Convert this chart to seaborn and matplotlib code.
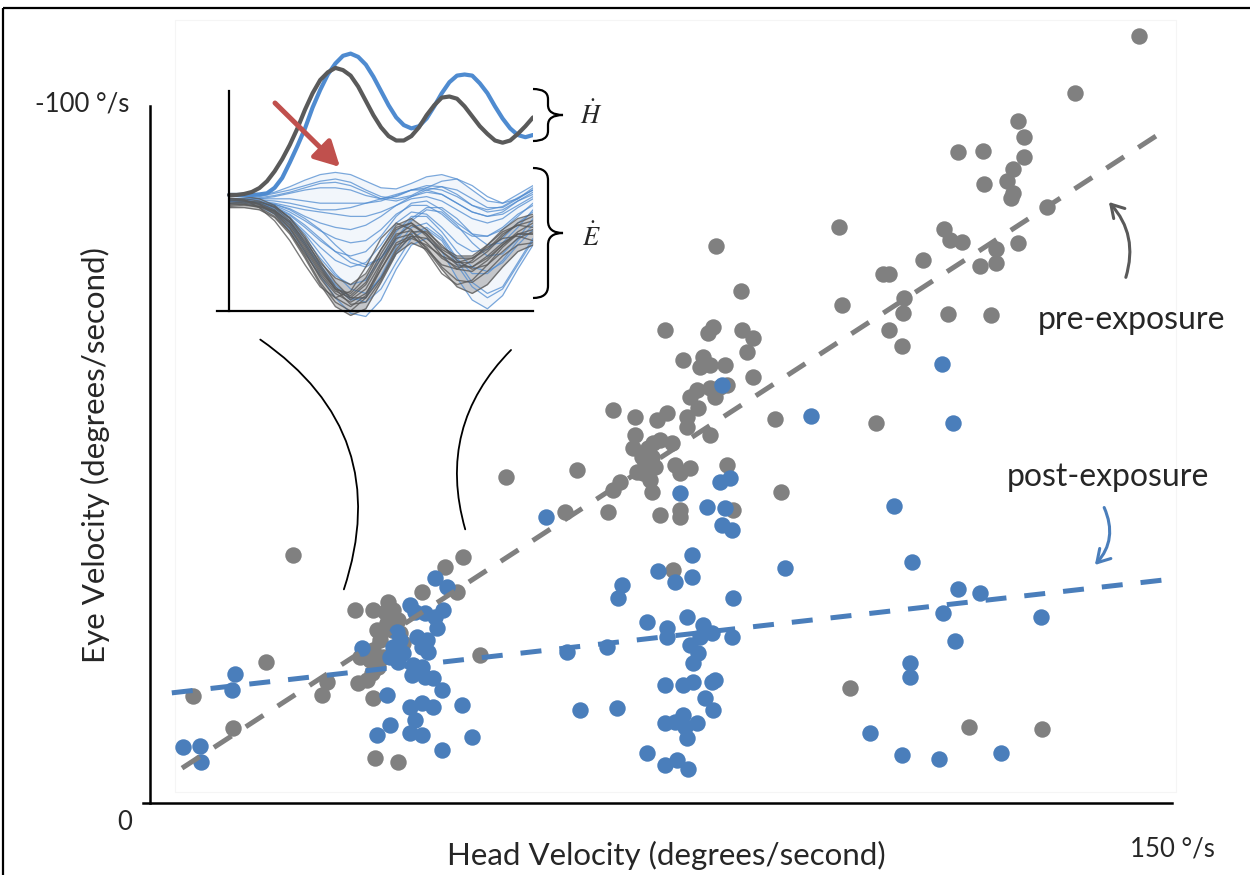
import numpy as np
import pandas as pd
import matplotlib
matplotlib.use("Agg")
import matplotlib.pyplot as plt
import seaborn as sns
from matplotlib.transforms import Affine2D
from matplotlib.patches import FancyArrowPatch, PathPatch, Rectangle
from matplotlib.path import Path

# ---------------- data ----------------
pre_x = [145.2, 135.8, 127.4, 128.3, 118.6, 122.3, 128.3, 126.7, 125.8, 122.4, 126.7, 126.4, 131.7,
         101.1, 116.5, 117.4, 119.2, 127.4, 124.2, 113.5, 121.8, 124.2, 107.6, 108.5, 101.6, 110.7,
         110.5, 117.1, 123.4, 108.5, 110.4, 106.6, 91.7, 92.6, 102.7, 120.2, 130.9,
         83.1, 86.7, 75.6, 82.6, 81.9, 86.9, 88.5, 87.6, 78.2, 81.2, 80.7, 82.2, 84.4, 88.5,
         79.3, 80.3, 82.2, 82.9, 83.7, 84.7, 80.4, 68.0, 71.2, 74.4, 75.9, 78.8, 78.8, 82.2,
         71.2, 73.8, 74.9, 76.6, 73.1, 70.9, 72.2, 73.7, 72.7, 74.1, 77.1, 79.3, 77.8, 71.5,
         72.4, 73.4, 69.0, 68.0, 73.7, 84.7, 67.2, 74.9, 77.8, 77.8, 85.6, 76.8, 52.2, 62.7, 60.9,
         45.9, 43.3, 39.9, 45.1, 30.1, 32.7, 34.9, 35.7, 33.3, 33.8, 34.8, 36.4, 36.7, 37.1,
         32.7, 32.3, 33.5, 34.2, 30.8, 30.5, 31.8, 32.6, 26.0, 25.2, 32.7, 48.4, 33.0, 36.4,
         35.5, 34.5, 36.0, 21.0, 17.0, 12.2, 6.3]
pre_y = [-110.0, -101.9, -97.8, -95.6, -93.4, -93.5, -92.7, -91.0, -89.2, -88.8, -87.5, -86.8, -85.5,
         -82.6, -82.4, -80.8, -80.5, -80.3, -79.5, -77.9, -77.0, -77.5, -75.9, -75.9, -71.4, -72.5,
         -70.3, -70.2, -70.0, -67.9, -65.6, -54.5, -55.1, -44.6, -16.5, -10.9, -10.6,
         -79.9, -73.5, -67.9, -68.3, -67.4, -67.9, -66.7, -64.7, -63.6, -64.0, -62.6, -62.8, -62.8, -61.1,
         -58.2, -59.3, -59.5, -58.2, -59.7, -60.0, -56.7, -56.4, -55.4, -55.0, -56.0, -55.4, -53.9, -52.8,
         -52.8, -51.6, -52.1, -51.6, -50.9, -50.9, -49.6, -49.6, -48.8, -48.2, -48.5, -48.1, -47.3, -47.5,
         -47.3, -46.3, -46.1, -44.9, -44.6, -48.5, -41.8, -41.3, -42.0, -41.0, -42.0, -33.4, -46.8, -47.8, -41.8,
         -35.3, -33.9, -30.3, -30.3, -27.7, -27.7, -28.8, -27.7, -24.8, -23.4, -25.8, -26.3, -24.4, -23.0,
         -22.0, -20.5, -19.5, -20.9, -20.9, -17.2, -17.6, -18.7, -17.4, -15.5, -15.1, -21.2, -6.5, -5.9,
         -24.8, -27.4, -22.0, -35.6, -20.2, -10.8, -15.4]

post_x = [12.5, 12.0, 4.8, 7.3, 7.5,
          41.8, 43.6, 38.2, 38.9, 40.4, 41.8, 43.0, 42.1, 31.1, 36.3, 36.7, 35.7, 37.1, 35.2, 36.4,
          39.2, 39.9, 40.8, 40.7, 38.6, 38.5, 39.9, 40.4, 41.5, 42.9, 34.8, 38.2, 39.9, 41.5, 38.9,
          38.2, 39.9, 35.2, 33.3, 45.8, 47.3, 42.9,
          84.0, 97.0, 77.8, 83.7, 85.1, 81.8, 84.4, 84.0, 85.4, 79.6, 74.6, 77.1, 79.6, 69.3, 68.7,
          85.6, 93.2, 72.9, 78.8, 75.9, 75.9, 81.2, 80.7, 82.5, 67.1, 79.3, 80.4, 79.7, 85.4, 63.1,
          68.5, 75.6, 78.2, 79.7, 82.5, 82.9, 81.5, 82.6, 75.6, 77.1, 78.2, 78.5, 80.3, 78.8, 72.9,
          75.6, 77.3, 79.0, 105.7, 61.2, 58.1,
          116.2, 117.9, 109.2, 111.8, 118.6, 121.8, 116.4, 130.8, 118.1, 111.5, 111.5, 110.4, 115.8, 124.9]
post_y = [-18.5, -16.2, -8.0, -8.2, -5.9,
          -32.3, -31.0, -28.4, -27.4, -27.3, -26.7, -27.7, -25.1, -22.2, -24.5, -23.4, -22.4, -21.5, -20.9, -20.2,
          -23.8, -22.4, -21.7, -23.4, -19.8, -18.4, -19.5, -18.1, -17.9, -16.2, -15.5, -13.8, -14.3, -13.8, -11.9,
          -10.0, -9.8, -11.2, -9.8, -14.1, -9.5, -7.6,
          -60.0, -55.5, -44.5, -46.1, -46.6, -42.5, -42.3, -39.9, -39.2, -35.6, -33.3, -31.7, -32.4, -31.3, -29.4,
          -29.4, -33.7, -26.0, -26.7, -25.1, -23.8, -25.5, -23.8, -24.4, -22.4, -22.7, -21.5, -20.1, -23.8, -13.3,
          -13.6, -16.9, -16.9, -17.4, -17.4, -17.6, -15.1, -13.3, -11.5, -11.6, -12.6, -10.9, -11.5, -9.3, -7.2,
          -5.5, -6.2, -4.9, -10.0, -21.7, -41.0,
          -63.0, -54.5, -42.6, -34.6, -30.7, -30.1, -27.3, -26.7, -23.2, -20.1, -18.1, -6.9, -6.3, -7.2]

pre_trend_x = [4.7, 149.4]
pre_trend_y = [-5.0, -96.8]
post_trend_x = [3.2, 149.7]
post_trend_y = [-15.8, -32.1]

x_ticks = [0, 50, 100, 150]
y_ticks = [0, -50, -100]
x_label = "Head Velocity (degrees/second)"
y_label = "Eye Velocity (degrees/second)"
x_end_label = "150 °/s"
y_end_label = "-100 °/s"
origin_label = "0"
pre_label = "pre-exposure"
post_label = "post-exposure"

# inset: head velocity traces (fine time grid)
head_t = [0.00, 0.05, 0.10, 0.15, 0.20, 0.25, 0.30, 0.35, 0.40, 0.45, 0.50, 0.55, 0.60, 0.65,
          0.70, 0.75, 0.80, 0.85, 0.90, 0.95, 1.00, 1.05, 1.10, 1.15, 1.20, 1.25, 1.30, 1.35,
          1.40, 1.45, 1.50, 1.55, 1.60, 1.65, 1.70, 1.75, 1.80, 1.85, 1.90, 1.95, 2.00]
head_pre = [0.055, 0.055, 0.064, 0.082, 0.118, 0.18, 0.27, 0.38, 0.51, 0.66, 0.83, 0.98, 1.10, 1.17,
            1.21, 1.19, 1.14, 1.04, 0.91, 0.78, 0.67, 0.59, 0.55, 0.55, 0.59, 0.67, 0.78, 0.87,
            0.94, 0.95, 0.93, 0.86, 0.77, 0.68, 0.61, 0.55, 0.53, 0.55, 0.61, 0.68, 0.76]
head_post = [0.055, 0.055, 0.055, 0.055, 0.06, 0.07, 0.12, 0.21, 0.35, 0.50, 0.66, 0.85, 1.01, 1.15,
             1.25, 1.32, 1.34, 1.31, 1.24, 1.13, 1.00, 0.87, 0.76, 0.69, 0.66, 0.68, 0.75, 0.86,
             0.98, 1.08, 1.14, 1.15, 1.14, 1.07, 0.98, 0.86, 0.75, 0.66, 0.60, 0.58, 0.60]

# inset: eye velocity traces (coarser time grid)
inset_t = [0.0, 0.1, 0.2, 0.3, 0.4, 0.5, 0.6, 0.7, 0.8, 0.9, 1.0,
           1.1, 1.2, 1.3, 1.4, 1.5, 1.6, 1.7, 1.8, 1.9, 2.0]
eye_pre = [
    [-0.02, -0.02, -0.04, -0.10, -0.24, -0.44, -0.66, -0.82, -0.88, -0.76, -0.52, -0.30, -0.27, -0.38, -0.52, -0.60, -0.60, -0.50, -0.38, -0.30, -0.30],
    [0.02, 0.01, -0.03, -0.12, -0.28, -0.50, -0.74, -0.92, -1.00, -0.88, -0.62, -0.38, -0.32, -0.42, -0.60, -0.72, -0.74, -0.64, -0.50, -0.40, -0.38],
    [-0.05, -0.04, -0.05, -0.09, -0.19, -0.36, -0.56, -0.70, -0.76, -0.66, -0.44, -0.22, -0.16, -0.26, -0.42, -0.50, -0.50, -0.40, -0.26, -0.16, -0.12],
    [0.00, 0.00, -0.01, -0.05, -0.15, -0.32, -0.54, -0.74, -0.88, -0.88, -0.70, -0.44, -0.28, -0.28, -0.40, -0.54, -0.62, -0.58, -0.46, -0.34, -0.28],
    [0.03, 0.01, -0.06, -0.18, -0.36, -0.58, -0.78, -0.88, -0.82, -0.60, -0.34, -0.20, -0.26, -0.44, -0.58, -0.62, -0.54, -0.40, -0.28, -0.22, -0.24],
    [-0.06, -0.06, -0.08, -0.15, -0.30, -0.52, -0.76, -0.96, -1.04, -0.98, -0.74, -0.48, -0.38, -0.44, -0.62, -0.78, -0.84, -0.76, -0.60, -0.46, -0.40],
    [0.05, 0.04, 0.02, -0.04, -0.16, -0.34, -0.58, -0.78, -0.90, -0.80, -0.56, -0.32, -0.22, -0.30, -0.46, -0.56, -0.56, -0.46, -0.32, -0.20, -0.14],
    [-0.03, -0.03, -0.06, -0.14, -0.28, -0.48, -0.68, -0.84, -0.92, -0.84, -0.62, -0.40, -0.34, -0.40, -0.50, -0.56, -0.52, -0.42, -0.34, -0.32, -0.36],
    [0.01, 0.00, -0.02, -0.08, -0.20, -0.40, -0.62, -0.80, -0.86, -0.74, -0.48, -0.26, -0.20, -0.32, -0.50, -0.62, -0.64, -0.54, -0.40, -0.28, -0.20],
    [-0.04, -0.03, -0.05, -0.11, -0.25, -0.46, -0.70, -0.88, -0.96, -0.86, -0.58, -0.34, -0.30, -0.46, -0.66, -0.76, -0.72, -0.58, -0.42, -0.30, -0.26],
    [0.02, 0.02, 0.00, -0.06, -0.18, -0.38, -0.60, -0.80, -0.94, -0.92, -0.72, -0.46, -0.32, -0.34, -0.46, -0.58, -0.60, -0.52, -0.40, -0.30, -0.30],
    [-0.02, -0.01, -0.03, -0.09, -0.22, -0.42, -0.64, -0.80, -0.84, -0.70, -0.44, -0.24, -0.20, -0.30, -0.44, -0.52, -0.52, -0.44, -0.30, -0.22, -0.18],
]
eye_post = [
    [0.02, 0.03, 0.05, 0.08, 0.13, 0.19, 0.24, 0.26, 0.24, 0.18, 0.12, 0.11, 0.16, 0.22, 0.24, 0.20, 0.10, 0.00, -0.02, 0.06, 0.14],
    [0.00, 0.01, 0.02, 0.04, 0.07, 0.10, 0.12, 0.12, 0.10, 0.05, 0.02, 0.04, 0.10, 0.14, 0.13, 0.06, -0.04, -0.10, -0.08, 0.00, 0.06],
    [0.00, 0.00, 0.00, -0.02, -0.05, -0.08, -0.10, -0.12, -0.14, -0.14, -0.10, -0.04, 0.02, 0.04, 0.00, -0.08, -0.16, -0.20, -0.16, -0.06, 0.02],
    [0.00, 0.00, -0.01, -0.04, -0.10, -0.18, -0.27, -0.34, -0.38, -0.36, -0.26, -0.12, -0.04, -0.04, -0.12, -0.24, -0.32, -0.32, -0.24, -0.12, -0.04],
    [0.01, 0.00, -0.02, -0.06, -0.15, -0.28, -0.42, -0.54, -0.60, -0.56, -0.40, -0.20, -0.10, -0.12, -0.24, -0.38, -0.46, -0.44, -0.34, -0.20, -0.10],
    [0.00, 0.00, -0.03, -0.10, -0.22, -0.40, -0.60, -0.78, -0.90, -0.88, -0.68, -0.42, -0.24, -0.20, -0.32, -0.52, -0.66, -0.66, -0.54, -0.36, -0.22],
    [-0.02, -0.02, -0.05, -0.12, -0.26, -0.46, -0.68, -0.88, -1.02, -1.05, -0.90, -0.62, -0.40, -0.34, -0.46, -0.70, -0.90, -0.98, -0.86, -0.62, -0.40],
    [0.02, 0.02, 0.02, 0.02, 0.02, 0.00, -0.02, -0.02, -0.02, -0.02, 0.00, 0.05, 0.10, 0.12, 0.10, 0.04, -0.04, -0.08, -0.05, 0.03, 0.10],
    [0.01, 0.02, 0.04, 0.07, 0.10, 0.14, 0.18, 0.20, 0.17, 0.10, 0.04, 0.02, 0.05, 0.12, 0.18, 0.20, 0.14, 0.04, -0.02, 0.02, 0.10],
    [0.00, 0.00, -0.01, -0.03, -0.07, -0.14, -0.20, -0.24, -0.26, -0.22, -0.14, -0.04, 0.04, 0.08, 0.06, -0.02, -0.10, -0.14, -0.12, -0.04, 0.04],
    [0.00, -0.01, -0.02, -0.06, -0.13, -0.24, -0.36, -0.46, -0.50, -0.46, -0.32, -0.14, -0.02, 0.00, -0.08, -0.20, -0.30, -0.32, -0.26, -0.14, -0.02],
    [0.00, 0.00, -0.02, -0.08, -0.18, -0.34, -0.52, -0.68, -0.76, -0.72, -0.52, -0.28, -0.14, -0.14, -0.28, -0.46, -0.60, -0.64, -0.56, -0.40, -0.26],
    [0.01, 0.01, 0.03, 0.05, 0.08, 0.12, 0.16, 0.17, 0.14, 0.08, 0.02, 0.00, 0.04, 0.10, 0.13, 0.10, 0.02, -0.06, -0.06, 0.02, 0.12],
    [0.00, 0.00, -0.01, -0.03, -0.08, -0.16, -0.26, -0.40, -0.52, -0.58, -0.52, -0.36, -0.18, -0.08, -0.10, -0.22, -0.38, -0.50, -0.48, -0.34, -0.16],
    [0.00, 0.00, -0.02, -0.07, -0.16, -0.30, -0.48, -0.66, -0.80, -0.84, -0.70, -0.48, -0.30, -0.24, -0.34, -0.54, -0.74, -0.84, -0.78, -0.56, -0.34],
    [0.01, 0.01, 0.01, 0.00, -0.02, -0.05, -0.08, -0.08, -0.06, -0.02, 0.02, 0.06, 0.10, 0.10, 0.06, -0.02, -0.10, -0.14, -0.10, 0.00, 0.08],
    [0.00, 0.00, -0.01, -0.05, -0.12, -0.22, -0.34, -0.46, -0.56, -0.60, -0.52, -0.34, -0.16, -0.06, -0.06, -0.16, -0.30, -0.40, -0.38, -0.24, -0.08],
    [-0.01, -0.01, -0.03, -0.09, -0.20, -0.38, -0.58, -0.76, -0.88, -0.92, -0.80, -0.56, -0.34, -0.26, -0.36, -0.58, -0.78, -0.88, -0.80, -0.58, -0.36],
]

# ---------------- style ----------------
GRAY = "#808080"
BLUE = "#4a7ebb"
DGRAY = "#5a5a5a"
HBLUE = "#4f8bd0"
RED = "#c0504d"

sns.set_style("white")
plt.rcParams["font.family"] = ["Lato", "DejaVu Sans"]
plt.rcParams["mathtext.fontset"] = "stix"

W, H = 1250, 875
fig = plt.figure(figsize=(12.5, 8.75), dpi=100)
fig.patch.set_facecolor("white")
PX = Affine2D().scale(1.0 / W, -1.0 / H).translate(0, 1) + fig.transFigure

# frame and faint plot area
fig.add_artist(Rectangle((3, 8), 1400, 1000, transform=PX, fill=False, ec="black", lw=1.6, zorder=-5))
fig.add_artist(Rectangle((175, 20), 1001, 772, transform=PX, fill=False, ec="#f5f5f5", lw=0.8, zorder=-5))

# ---------------- main axes ----------------
ax = fig.add_axes([150 / W, (H - 803) / H, (1172 - 150) / W, (803 - 20) / H])
ax.set_facecolor("none")
ax.set_xlim(0, 150)
ax.set_ylim(0, -112.34)

sns.scatterplot(x=pre_x, y=pre_y, color=GRAY, s=140, linewidth=0, ax=ax, legend=False, zorder=2)
sns.scatterplot(x=post_x, y=post_y, color=BLUE, s=140, linewidth=0, ax=ax, legend=False, zorder=3)
sns.lineplot(x=pre_trend_x, y=pre_trend_y, color=GRAY, lw=3.6, linestyle=(0, (4.2, 3.4)), ax=ax, zorder=4)
sns.lineplot(x=post_trend_x, y=post_trend_y, color=BLUE, lw=3.6, linestyle=(0, (4.2, 3.6)), ax=ax, zorder=4)

for s in ["top", "right"]:
    ax.spines[s].set_visible(False)
ax.spines["left"].set_bounds(-100, 0)
ax.spines["bottom"].set_bounds(-1.0, 150)
for s in ["left", "bottom"]:
    ax.spines[s].set_linewidth(1.8)
    ax.spines[s].set_color("black")
ax.set_xticks(x_ticks)
ax.set_yticks(y_ticks)
ax.tick_params(axis="x", direction="out", length=10, width=1.5, color="black", labelbottom=False)
ax.tick_params(axis="y", direction="out", length=8, width=1.5, color="black", labelleft=False)
ax.set_xlabel("")
ax.set_ylabel("")

FS = 22.5
TFS = 18.5
fig.text(666, 855, x_label, transform=PX, ha="center", va="center", fontsize=FS)
fig.text(95, 455, y_label, transform=PX, ha="center", va="center", rotation=90, fontsize=FS)
fig.text(1172, 849, x_end_label, transform=PX, ha="center", va="center", fontsize=TFS)
fig.text(129, 104, y_end_label, transform=PX, ha="right", va="center", fontsize=TFS)
fig.text(125, 822, origin_label, transform=PX, ha="center", va="center", fontsize=TFS)
fig.text(1131, 320, pre_label, transform=PX, ha="center", va="center", fontsize=23)
fig.text(1108, 477, post_label, transform=PX, ha="center", va="center", fontsize=23)

# curved arrows to the trend lines
fig.add_artist(FancyArrowPatch((1125, 280), (1107, 200), transform=PX,
                               connectionstyle="arc3,rad=0.3", arrowstyle="->,head_length=0.5,head_width=0.3",
                               mutation_scale=18, color="#595959", lw=2.2))
fig.add_artist(FancyArrowPatch((1103, 505), (1093, 567), transform=PX,
                               connectionstyle="arc3,rad=-0.35", arrowstyle="->,head_length=0.5,head_width=0.3",
                               mutation_scale=18, color=BLUE, lw=2.2))

# zoom connector arcs
fig.add_artist(FancyArrowPatch((258, 338), (343, 592), transform=PX, connectionstyle="arc3,rad=-0.38",
                               arrowstyle="-", color="black", lw=1.3))
fig.add_artist(FancyArrowPatch((513, 348), (466, 532), transform=PX, connectionstyle="arc3,rad=0.3",
                               arrowstyle="-", color="black", lw=1.3))

# ---------------- inset ----------------
y_top_val = (201 - 40) / 110.0
y_bot_val = -1.15
ih = (y_top_val - y_bot_val) * 110.0
iax = fig.add_axes([217 / W, (H - (40 + ih)) / H, (533 - 217) / W, ih / H])
iax.set_facecolor("none")
iax.set_xlim(-0.079, 2.0)
iax.set_ylim(y_bot_val, y_top_val)

rows = []
for k, tr in enumerate(eye_post):
    for t, v in zip(inset_t, tr):
        rows.append(("post", k, t, v))
for k, tr in enumerate(eye_pre):
    for t, v in zip(inset_t, tr):
        rows.append(("pre", k, t, v))
eye_df = pd.DataFrame(rows, columns=["cond", "trace", "t", "v"])

iax.fill_between(inset_t, eye_post[0], eye_post[6], color=HBLUE, alpha=0.07, lw=0)
sns.lineplot(data=eye_df[eye_df.cond == "post"], x="t", y="v", units="trace", estimator=None,
             color=HBLUE, lw=0.9, alpha=0.75, ax=iax, legend=False)
iax.fill_between(inset_t, eye_pre[2], eye_pre[5], color=DGRAY, alpha=0.3, lw=0)
sns.lineplot(data=eye_df[eye_df.cond == "pre"], x="t", y="v", units="trace", estimator=None,
             color=DGRAY, lw=1.0, alpha=0.8, ax=iax, legend=False)
sns.lineplot(x=head_t, y=head_post, color=HBLUE, lw=3.0, ax=iax)
sns.lineplot(x=head_t, y=head_pre, color=DGRAY, lw=3.0, ax=iax)
iax.set_xlabel("")
iax.set_ylabel("")

for s in ["top", "right"]:
    iax.spines[s].set_visible(False)
iax.spines["left"].set_position(("data", 0))
iax.spines["left"].set_bounds(-1, 1)
iax.spines["bottom"].set_position(("data", -1))
iax.spines["bottom"].set_bounds(-0.079, 2.0)
for s in ["left", "bottom"]:
    iax.spines[s].set_linewidth(1.6)
    iax.spines[s].set_color("black")
iax.set_xticks([0, 1, 2])
iax.set_yticks([0, 1])
iax.tick_params(axis="x", direction="out", length=11, width=1.5, labelbottom=False)
iax.tick_params(axis="y", direction="out", length=9.5, width=1.5, labelleft=False)

# red arrow
fig.add_artist(FancyArrowPatch((275, 103), (340, 167), transform=PX,
                               arrowstyle="-|>,head_length=0.75,head_width=0.4", mutation_scale=20,
                               color=RED, lw=3.6, shrinkA=0, shrinkB=0))


def brace(x0, yt, yb, w, r):
    ym = (yt + yb) / 2.0
    xm = x0 + w / 2.0
    verts = [(x0, yt), (xm, yt), (xm, yt + r), (xm, ym - r), (xm, ym), (x0 + w, ym),
             (xm, ym), (xm, ym + r), (xm, yb - r), (xm, yb), (x0, yb)]
    codes = [Path.MOVETO, Path.CURVE3, Path.CURVE3, Path.LINETO, Path.CURVE3, Path.CURVE3,
             Path.CURVE3, Path.CURVE3, Path.LINETO, Path.CURVE3, Path.CURVE3]
    return PathPatch(Path(verts, codes), transform=PX, fill=False, ec="black", lw=1.6)


fig.add_artist(brace(533, 89, 141, 30, 10))
fig.add_artist(brace(533, 168, 298, 30, 12))
fig.text(591, 115, r"$\dot{H}$", transform=PX, ha="center", va="center", fontsize=19)
fig.text(591, 237, r"$\dot{E}$", transform=PX, ha="center", va="center", fontsize=19)

fig.savefig("out.png", dpi=100)
